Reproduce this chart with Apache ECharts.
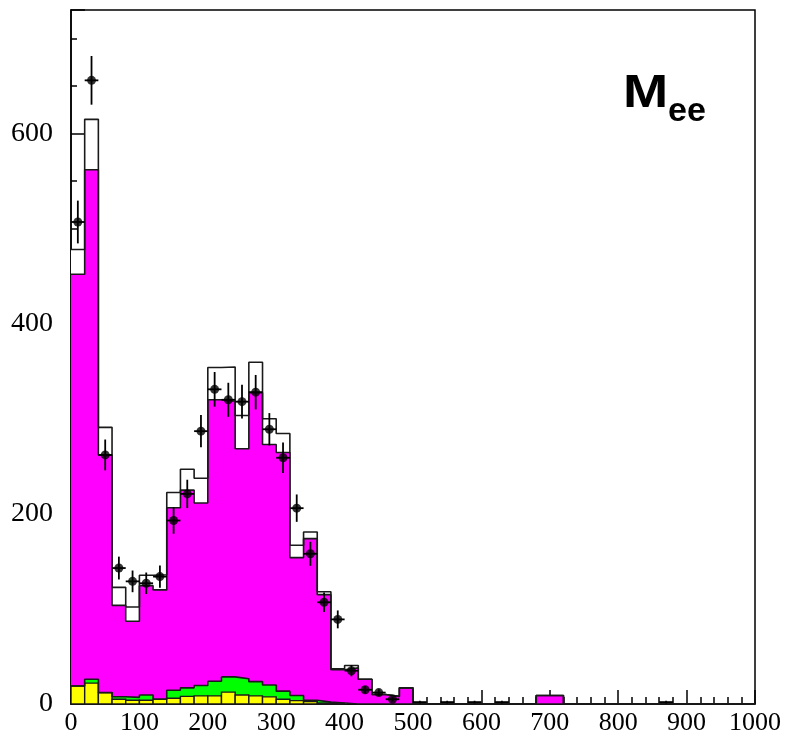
<!DOCTYPE html>
<html>
<head>
<meta charset="utf-8">
<script src="https://cdn.jsdelivr.net/npm/echarts@6/dist/echarts.min.js"></script>
<style>
  html, body { margin: 0; padding: 0; background: #fff; }
  #chart { width: 785px; height: 740px; }
</style>
</head>
<body>
<div id="chart"></div>
<script>
// lower edge of each 20-wide bin
const binStart = [0, 20, 40, 60, 80, 100, 120, 140, 160, 180, 200, 220, 240, 260, 280, 300, 320, 340, 360, 380,
  400, 420, 440, 460, 480, 500, 520, 540, 560, 580, 600, 620, 640, 660, 680, 700, 720, 740, 760, 780,
  800, 820, 840, 860, 880, 900, 920, 940, 960, 980];
const binWidth = 20;

// stacked backgrounds, bottom to top (each layer's own content)
const yellowBkg = [19, 22, 12, 5, 4, 4, 5, 6, 8, 8.5, 8.5, 12.5, 9.5, 8.5, 7.5, 5, 3.5, 2.5, 1, 0.5,
  0, 0, 0, 0, 0, 0, 0, 0, 0, 0, 0, 0, 0, 0, 0, 0, 0, 0, 0, 0, 0, 0, 0, 0, 0, 0, 0, 0, 0, 0];
const greenBkg = [0, 4, 0, 2.7, 3, 5.5, 0, 8.5, 9, 11, 15.5, 16, 17, 15, 12.5, 8.5, 5.5, 1.5, 1, 0.5,
  0, 0, 0, 0, 0, 0, 0, 0, 0, 0, 0, 0, 0, 0, 0, 0, 0, 0, 0, 0, 0, 0, 0, 0, 0, 0, 0, 0, 0, 0];
const magentaBkg = [433, 536, 250, 96, 80, 115, 115, 192, 208, 192, 296, 290, 242, 304, 253, 251, 145, 170, 113, 35,
  38, 26, 10, 8, 17, 0, 0, 0, 0, 0, 0, 0, 0, 0, 9, 9, 0, 0, 0, 0, 0, 0, 0, 0, 0, 0, 0, 0, 0, 0];
const whiteBkg = [26, 53, 29, 19, 15, 11, 16, 16, 22, 26, 34, 36, 35, 32, 27, 20, 13, 7, 3, 1,
  2.5, 0, 0, 0, 0, 0, 0, 0, 0, 0, 0, 0, 0, 0, 0, 0, 0, 0, 0, 0, 0, 0, 0, 0, 0, 0, 0, 0, 0, 0];

// data points (bin centre, count, error)
const dataX = [10, 30, 50, 70, 90, 110, 130, 150, 170, 190, 210, 230, 250, 270, 290, 310, 330, 350, 370, 390,
  410, 430, 450, 470, 510, 550, 590, 630, 870];
const dataN = [507, 656, 262, 143, 129, 127, 134, 193, 221, 287, 331, 320, 318, 328, 289, 259, 206, 158, 107, 89,
  35, 15, 12, 5, 2, 2, 2, 2, 2];
const dataErr = [22.5, 25.6, 16.2, 12, 11.4, 11.3, 11.6, 13.9, 14.9, 16.9, 18.2, 17.9, 17.8, 18.1, 17, 16.1, 14.4, 12.6, 10.3, 9.4,
  5.9, 3.9, 3.5, 2.2, 1.4, 1.4, 1.4, 1.4, 1.4];

const yTickLabels = [0, 200, 400, 600];

// cumulative tops of the stack
const layers = [yellowBkg, greenBkg, magentaBkg, whiteBkg];
const tops = [];
let run = binStart.map(() => 0);
layers.forEach(l => {
  run = run.map((v, i) => v + l[i]);
  tops.push(run.slice());
});

function stepData(vals) {
  const pts = binStart.map((x, i) => [x, vals[i]]);
  pts.push([binStart[binStart.length - 1] + binWidth, vals[vals.length - 1]]);
  return pts;
}

const outline = { color: '#1a1a1a', width: 1.6 };
function histSeries(vals, fill) {
  return {
    type: 'line',
    step: 'end',
    symbol: 'none',
    data: stepData(vals),
    lineStyle: outline,
    areaStyle: { color: fill, opacity: 1 },
    silent: true
  };
}

const chart = echarts.init(document.getElementById('chart'));
const axisLine = { show: true, lineStyle: { color: '#000', width: 1.5 } };

chart.setOption({
  animation: false,
  backgroundColor: '#fff',
  grid: { left: 71, right: 30, top: 10, bottom: 36, show: true, borderColor: '#000', borderWidth: 1.5 },
  xAxis: {
    type: 'value', min: 0, max: 1000, interval: 100,
    axisLine: axisLine,
    axisTick: { inside: true, length: 14, lineStyle: { color: '#000', width: 1.5 } },
    minorTick: { show: true, splitNumber: 5, length: 7, lineStyle: { color: '#000', width: 1.5 } },
    axisLabel: {
      margin: 6, fontFamily: 'Liberation Serif', fontSize: 26, color: '#000',
      formatter: v => String(v)
    },
    splitLine: { show: false }
  },
  yAxis: [
    {
      type: 'value', min: 0, max: 730, interval: 50,
      axisLine: axisLine,
      axisTick: { inside: true, length: 6, lineStyle: { color: '#000', width: 1.5 } },
      axisLabel: {
        margin: 18, fontFamily: 'Liberation Serif', fontSize: 28, color: '#000',
        formatter: v => (yTickLabels.indexOf(v) >= 0 ? String(v) : '')
      },
      splitLine: { show: false }
    },
    {
      type: 'value', min: 0, max: 730, interval: 200, position: 'left',
      axisLine: { show: false },
      axisTick: { inside: true, length: 14, lineStyle: { color: '#000', width: 1.5 } },
      axisLabel: { show: false },
      splitLine: { show: false }
    }
  ],
  graphic: [
    { type: 'text', left: 623, top: 71, scaleX: 1.18, style: { text: 'M', font: 'bold 46px "Liberation Sans"', fill: '#000' } },
    { type: 'text', left: 668, top: 95, style: { text: 'ee', font: 'bold 34px "Liberation Sans"', fill: '#000' } }
  ],
  series: [
    histSeries(tops[3], '#ffffff'),
    histSeries(tops[2], '#ff00ff'),
    histSeries(tops[1], '#00ff00'),
    {
      // yellow drawn bin by bin, with its own box outline
      type: 'custom',
      silent: true,
      z: 3,
      data: binStart.map((x, i) => [x, tops[0][i]]),
      encode: { x: 0, y: 1 },
      renderItem: function (params, api) {
        const x = api.value(0), y = api.value(1);
        if (!y) return null;
        const p0 = api.coord([x, y]);
        const p1 = api.coord([x + binWidth, 0]);
        return {
          type: 'rect',
          shape: { x: p0[0], y: p0[1], width: p1[0] - p0[0], height: p1[1] - p0[1] },
          style: { fill: '#ffff00', stroke: '#1a1a1a', lineWidth: 1.4 }
        };
      }
    },
    {
      type: 'custom',
      silent: true,
      z: 5,
      data: dataX.map((x, i) => [x, dataN[i], dataErr[i]]),
      encode: { x: 0, y: 1 },
      renderItem: function (params, api) {
        const x = api.value(0), y = api.value(1), e = api.value(2);
        const lo = api.coord([x, y - e]);
        const hi = api.coord([x, y + e]);
        const l = api.coord([x - binWidth / 2, y]);
        const r = api.coord([x + binWidth / 2, y]);
        const st = { stroke: '#000', lineWidth: 1.8 };
        return {
          type: 'group',
          children: [
            { type: 'line', shape: { x1: lo[0], y1: lo[1], x2: hi[0], y2: hi[1] }, style: st },
            { type: 'line', shape: { x1: l[0], y1: l[1], x2: r[0], y2: r[1] }, style: st }
          ]
        };
      }
    },
    {
      type: 'scatter',
      silent: true,
      z: 6,
      symbol: 'circle',
      symbolSize: 9,
      itemStyle: { color: '#000' },
      data: dataX.map((x, i) => [x, dataN[i]]).filter(p => p[1] > 3)
    }
  ]
});
</script>
</body>
</html>
